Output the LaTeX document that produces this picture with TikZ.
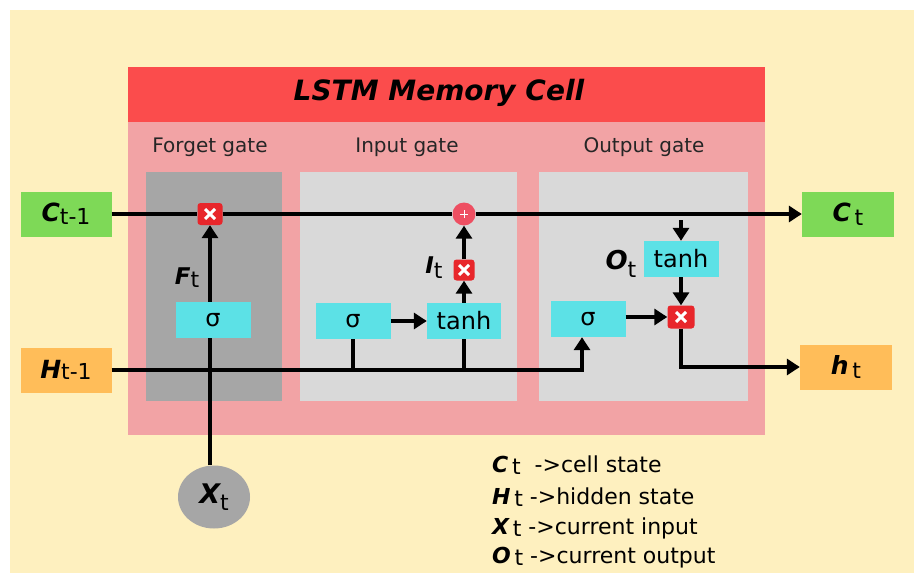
\documentclass[tikz,border=0pt]{standalone}
\usepackage{fontspec}
\setmainfont{DejaVu Sans}
\usetikzlibrary{arrows.meta,shapes.geometric}
\definecolor{cream}{HTML}{FEF0BF}
\definecolor{hdrred}{HTML}{FB4C4C}
\definecolor{bodypink}{HTML}{F2A3A5}
\definecolor{darkgray}{HTML}{A6A6A6}
\definecolor{lightgray}{HTML}{D9D9D9}
\definecolor{cyanbox}{HTML}{5CE1E6}
\definecolor{greenbox}{HTML}{7ED957}
\definecolor{orangebox}{HTML}{FFBD59}
\definecolor{multred}{HTML}{E8262B}
\definecolor{plusred}{HTML}{EE4F62}
\newcommand{\bi}[2][25]{{\fontsize{#1}{#1}\selectfont\bfseries\itshape #2}}
\newcommand{\lw}[2][4]{\raisebox{-#1pt}{#2}}
\begin{document}
\begin{tikzpicture}[x=1pt,y=-1pt,
  conn/.style={line width=4.3pt, black},
  arr/.style={conn, -{Triangle[length=13pt,width=16pt]}},
  opbox/.style={fill=cyanbox, minimum width=75pt, minimum height=36pt, inner sep=0pt},
  sig/.style={opbox, font=\fontsize{24}{26}\selectfont},
  tanhbox/.style={opbox, font=\fontsize{24}{26}\selectfont},
  statebox/.style={minimum width=91pt, minimum height=45pt, inner sep=0pt, font=\fontsize{22}{24}\selectfont},
  mult/.style={fill=multred, rounded corners=3pt, minimum width=25pt, minimum height=22pt, inner sep=0pt,
    path picture={\draw[white, line width=3pt]
      ([shift={(-5pt,-5pt)}]path picture bounding box.center) -- ([shift={(5pt,5pt)}]path picture bounding box.center)
      ([shift={(-5pt,5pt)}]path picture bounding box.center) -- ([shift={(5pt,-5pt)}]path picture bounding box.center);}},
  gatelabel/.style={font=\fontsize{20}{22}\selectfont, text=black!85},
  symlabel/.style={font=\fontsize{22}{24}\selectfont, inner sep=0pt},
  legend/.style={anchor=west, inner sep=0pt, font=\fontsize{22}{24}\selectfont}
]
\useasboundingbox (0,0) rectangle (916,575);
\fill[white] (0,0) rectangle (916,575);
\fill[cream] (10,10) rectangle (914,573);
% cell
\fill[bodypink] (128,122) rectangle (765,435);
\fill[hdrred] (128,67) rectangle (765,122);
\node[font=\bfseries\itshape\fontsize{28}{30}\selectfont] (title) at (439,93) {LSTM Memory Cell};
\fill[darkgray] (146,172) rectangle (282,401);
\fill[lightgray] (300,172) rectangle (517,401);
\fill[lightgray] (539,172) rectangle (748,401);
\node[gatelabel] (lforget) at (210,147) {Forget gate};
\node[gatelabel] (linput) at (407,147) {Input gate};
\node[gatelabel] (loutput) at (644,147) {Output gate};
% states
\node[statebox, fill=greenbox] (cprev) at (66,214) {\bi{C}\lw[3]{t-1}};
\node[statebox, fill=orangebox] (hprev) at (66,370) {\bi{H}\lw[1]{t-1}};
\node[statebox, fill=greenbox, minimum width=92pt] (cnext) at (848,214) {\bi{C}\,\lw{t}};
\node[statebox, fill=orangebox, minimum width=92pt] (hnext) at (846,367) {\bi{h}\,\lw{t}};
% forget gate
\node[mult] (fmult) at (210,214) {};
\node[sig] (fsig) at (213,320) {σ};
\node[ellipse, fill=darkgray, minimum width=72pt, minimum height=63pt, inner sep=0pt, font=\fontsize{22}{24}\selectfont] (xt) at (214,497) {\bi[27]{X}\lw[7]{t}};
\node[symlabel] (ft) at (187,278) {\bi[23]{F}\lw[3]{t}};
% input gate
\node[circle, fill=plusred, minimum size=23pt, inner sep=0pt,
  path picture={\draw[white, line width=1pt]
   ([xshift=-4pt]path picture bounding box.center) -- ([xshift=4pt]path picture bounding box.center)
   ([yshift=-4pt]path picture bounding box.center) -- ([yshift=4pt]path picture bounding box.center);}] (plus) at (464,214) {};
\node[mult, minimum width=21pt, minimum height=21pt] (imult) at (464,270) {};
\node[sig] (isig) at (353,321) {σ};
\node[tanhbox, minimum width=74pt] (itanh) at (464,321) {tanh};
\node[symlabel] (it) at (434,268) {\bi[23]{I}\lw[5]{t}};
% output gate
\node[tanhbox] (otanh) at (681,259) {tanh};
\node[mult, minimum width=27pt, minimum height=23pt] (omult) at (681,317) {};
\node[sig] (osig) at (588,319) {σ};
\node[symlabel] (ot) at (621,264) {\bi[26]{O}\lw[8]{t}};
\coordinate (otop) at (681,220);
% connectors
\draw[conn] (cprev.east) -- (fmult.west);
\draw[conn] (fmult.east) -- (plus.west);
\draw[arr] (plus.east) -- (cnext.west);
\draw[conn] (fmult.south |- xt.north) -- (fmult.south |- fsig.south);
\draw[arr] (fmult.south |- fsig.north) -- (fmult.south);
\draw[arr] (hprev.east) -| ([xshift=-6pt]osig.south);
\draw[conn] (isig.south) -- (isig.south |- hprev.east);
\draw[conn] (itanh.south) -- (itanh.south |- hprev.east);
\draw[arr] (isig.east) -- (itanh.west);
\draw[arr] (itanh.north) -- (imult.south);
\draw[arr] (imult.north) -- (plus.south);
\draw[arr] (otop) -- (otanh.north);
\draw[arr] (otanh.south) -- (omult.north);
\draw[arr] (osig.east |- omult.west) -- (omult.west);
\draw[arr] (omult.south) |- (hnext.west);
% legend
\node[legend] (lg1) at (492,465) {\bi[22]{C}\,\lw[2]{t}\ \ ->cell state};
\node[legend] (lg2) at (492,497) {\bi[22]{H}\,\lw[2]{t}\ ->hidden state};
\node[legend] (lg3) at (492,528) {\bi[22]{X}\,\lw[2]{t}\ ->current input};
\node[legend] (lg4) at (492,558) {\bi[22]{O}\,\lw[2]{t}\ ->current output};
\end{tikzpicture}
\end{document}
